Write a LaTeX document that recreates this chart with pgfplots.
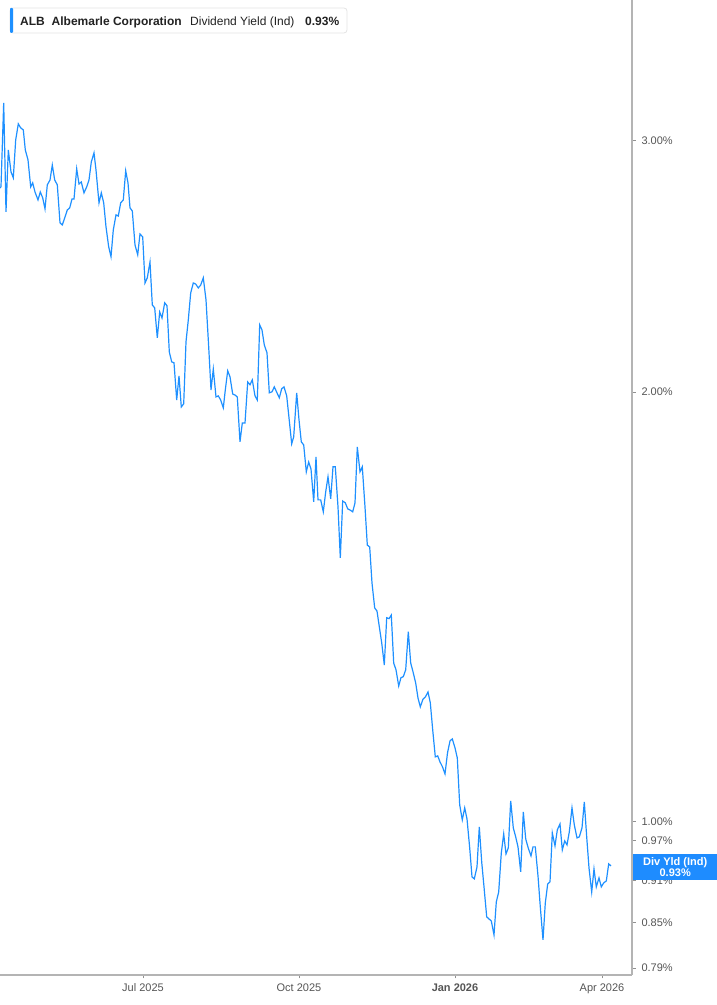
\documentclass[border=0pt]{standalone}
\usepackage{pgfplots}
\pgfplotsset{compat=1.18}
\usepackage{fontspec}
\setmainfont{Liberation Sans}
\definecolor{lineblue}{HTML}{1E90FF}
\definecolor{boxblue}{HTML}{1E8CFF}
\definecolor{axgray}{HTML}{B4B4B4}
\definecolor{lblgray}{HTML}{555555}
\definecolor{txtdark}{HTML}{222222}
\definecolor{legborder}{HTML}{E4E4E4}
\begin{document}
\begin{tikzpicture}[x=1pt,y=1pt]
\useasboundingbox (0,-30) rectangle (717,975);
\begin{axis}[
  at={(0,0)}, anchor=south west,
  scale only axis, width=632pt, height=975pt,
  xmin=0, xmax=632,
  ymode=log, ymin=0.7813, ymax=3.765,
  axis x line*=bottom, axis y line*=right,
  axis line style={axgray, line width=1.4pt},
  x axis line style={-}, y axis line style={-},
  xtick={143,299,455,602},
  xticklabels={Jul 2025, Oct 2025, \textbf{Jan 2026}, Apr 2026},
  ytick={0.79,0.85,0.91,0.97,1,2,3},
  yticklabels={0.79\%,0.85\%,0.91\%,0.97\%,1.00\%,2.00\%,3.00\%},
  minor ytick={}, minor xtick={},
  tick align=outside, major tick length=3.5pt,
  tick style={axgray!80!black, line width=0.8pt},
  ticklabel style={font=\fontsize{11}{13}\selectfont, text=lblgray},
  yticklabel style={anchor=west, xshift=2.5pt},
  xticklabel style={yshift=-1.5pt},
  clip=false,
]
\addplot[lineblue, line width=1.2pt, mark=none] coordinates {
(0,2.780) (1,2.785) (3.7,3.189) (6,2.675) (8.3,2.956) (11,2.853) (13.3,2.826)
(15.7,3.004) (18.3,3.083) (20.7,3.063) (23.3,3.053) (25.3,2.956) (28,2.909)
(30.7,2.785) (32.7,2.803) (35,2.762) (38,2.727) (40.3,2.762) (42.7,2.736)
(45,2.688) (47.3,2.794) (50,2.816) (52.3,2.885) (54.7,2.816) (57.3,2.794)
(60,2.628) (62.3,2.619) (65,2.653) (67.3,2.683) (69.7,2.692) (72,2.731)
(74,2.731) (76.7,2.867) (79,2.798) (81.3,2.807) (84,2.758) (86.7,2.785)
(89,2.816) (91.3,2.899) (94,2.942) (96,2.862) (99,2.714) (101.3,2.758)
(103.7,2.714) (106,2.611) (108.7,2.528) (111,2.488) (113.3,2.598) (116,2.662)
(118.3,2.657) (120.7,2.714) (123.3,2.727) (125.7,2.858) (128,2.803) (130,2.692)
(132.3,2.679) (135,2.536) (137.7,2.496) (140,2.581) (142.7,2.569) (145,2.385)
(147.3,2.405) (150,2.467) (152.3,2.302) (154.7,2.291) (157.3,2.183) (159.7,2.276)
(162,2.254) (164.7,2.310) (167,2.299) (169.3,2.134) (171.7,2.100) (174,2.097)
(176.7,1.975) (179,2.053) (181.3,1.953) (183.7,1.963) (186,2.169) (188.3,2.247)
(190.7,2.347) (193.3,2.385) (195.7,2.381) (198.3,2.366) (200.7,2.377) (203.3,2.405)
(206,2.321) (208.7,2.151) (211,2.007) (213.3,2.076) (216,1.985) (218.3,1.988)
(220.7,1.975) (223.3,1.950) (225.3,2.007) (227.7,2.070) (230,2.050) (232.7,1.994)
(235,1.991) (237.3,1.985) (240,1.846) (242.3,1.903) (245,1.903) (247.7,2.033)
(250,2.024) (252.3,2.040) (255,1.988) (257.3,1.975) (259.7,2.229) (262,2.211)
(264.3,2.158) (267,2.131) (269.3,1.998) (272,2.001) (274.3,2.017) (277,1.998)
(279.3,1.982) (281.7,2.011) (284,2.017) (286.7,1.988) (289,1.919) (291.7,1.840)
(293.7,1.861) (296.7,1.998) (299,1.913) (301.3,1.846) (303.7,1.837) (306.3,1.759)
(308.7,1.787) (311,1.767) (313.7,1.676) (316,1.802) (318,1.681) (320.7,1.681)
(323.3,1.649) (325.7,1.703) (328,1.745) (330.7,1.684) (333,1.773) (335.3,1.773)
(338,1.662) (340.3,1.531) (342.7,1.678) (345.3,1.673) (347.7,1.657) (350,1.654)
(352.7,1.649) (355,1.673) (357.3,1.831) (360,1.759) (362.3,1.773) (365,1.662)
(367.3,1.563) (369.7,1.558) (372,1.470) (374.7,1.412) (377,1.405) (379.3,1.370)
(381.7,1.335) (384.3,1.288) (386.7,1.390) (389,1.388) (391.3,1.396) (393.7,1.292)
(396,1.278) (398.7,1.245) (401,1.262) (403.3,1.264) (405.7,1.278) (408.3,1.359)
(410.7,1.292) (413,1.274) (415.7,1.251) (418,1.221) (420.3,1.204) (423,1.219)
(425.3,1.223) (428,1.233) (430.3,1.212) (432.7,1.160) (435.3,1.1105) (437.7,1.1124)
(440,1.1016) (442.5,1.0928) (445,1.0805) (447.5,1.1177) (450,1.1395) (452.3,1.1433)
(455,1.1268) (457.3,1.1087) (459.7,1.0278) (462.3,1.0032) (464.7,1.0229) (467,1.0048)
(469.7,0.9589) (472,0.9151) (474.3,0.9122) (477,0.9300) (479.3,0.9920) (481.7,0.9375)
(484,0.9005) (486.7,0.8580) (489,0.8551) (491.3,0.8524) (494,0.8334) (496.3,0.8790)
(498.7,0.8932) (501.3,0.9512) (503.7,0.9808) (506,0.9497) (508.3,0.9589) (510.7,1.0345)
(513.3,0.9904) (515.7,0.9761) (518,0.9605) (520.7,0.9225) (523.3,1.0163) (525.7,0.9730)
(528.2,0.9589) (531,0.9467) (533,0.9605) (535.3,0.9605) (538,0.9166) (540.3,0.8719)
(543,0.8267) (545.3,0.8775) (547.7,0.9048) (550,0.9078) (552.3,0.9824) (555,0.9620)
(557.3,0.9872) (560,0.9968) (562.3,0.9558) (564.7,0.9698) (567,0.9636) (569.3,0.9840)
(572,1.0229) (574.3,0.9952) (577,0.9745) (579.3,0.9761) (582,0.9904) (584.3,1.0328)
(586.7,0.9761) (589,0.9285) (591.7,0.8932) (594,0.9270) (596.3,0.9005) (599,0.9137)
(601.3,0.9005) (603.7,0.9063) (606.3,0.9092) (608.7,0.9345) (611,0.9315)
};
\coordinate (lab) at (axis cs:632,0.93);
\end{axis}
% right value label
\node[fill=boxblue, text=white, anchor=west, minimum width=85pt, minimum height=26pt,
  inner sep=0pt, align=center, font=\fontsize{11}{11.5}\selectfont\bfseries] at ([xshift=0.5pt]lab) {Div Yld (Ind)\\0.93\%};
% legend box
\draw[legborder, fill=white, rounded corners=3pt, line width=0.8pt] (10,942) rectangle (347,967);
\fill[lineblue, rounded corners=1pt] (10,942) rectangle (13,967);
\node[anchor=base west, inner sep=0pt, text=txtdark, font=\fontsize{12}{14}\selectfont\bfseries] at (20,949) {ALB};
\node[anchor=base west, inner sep=0pt, text=txtdark, font=\fontsize{12}{14}\selectfont\bfseries] at (51.5,949) {Albemarle Corporation};
\node[anchor=base west, inner sep=0pt, text=txtdark, font=\fontsize{12}{14}\selectfont] at (190,949) {Dividend Yield (Ind)};
\node[anchor=base west, inner sep=0pt, text=txtdark, font=\fontsize{12}{14}\selectfont\bfseries] at (305,949) {0.93\%};
\end{tikzpicture}
\end{document}
